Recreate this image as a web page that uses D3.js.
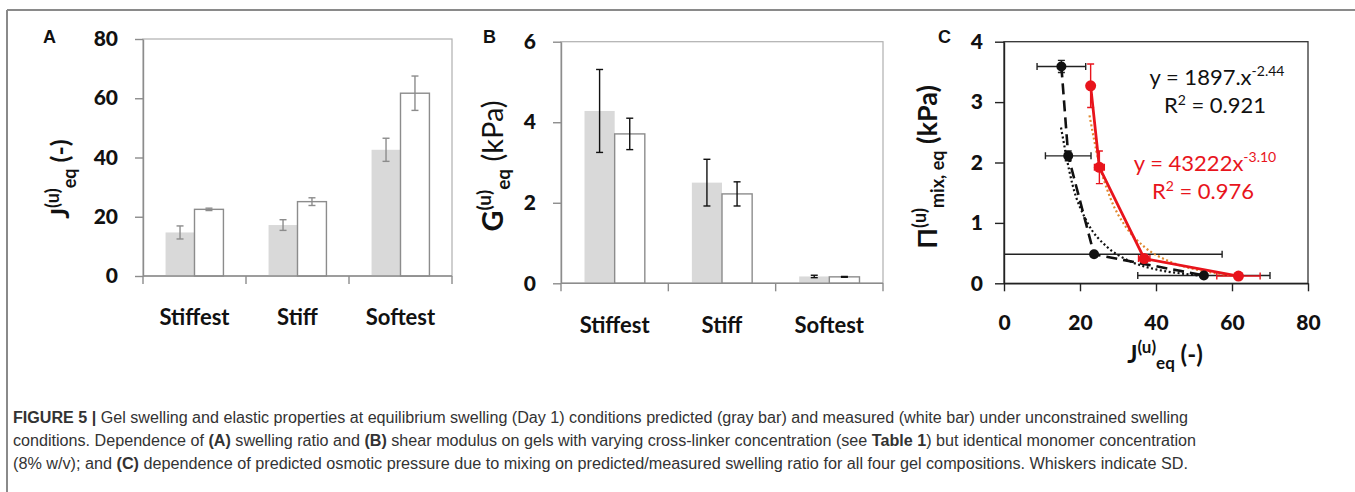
<!DOCTYPE html>
<html>
<head>
<meta charset="utf-8">
<script src="https://cdn.jsdelivr.net/npm/d3@7/dist/d3.min.js"></script>
<style>
  html, body { margin: 0; padding: 0; background: #fff; }
  svg { display: block; }
</style>
</head>
<body>
<svg id="chart" width="1355" height="492"></svg>
<script>
// ---------------- DATA ----------------
const categories = ["Stiffest", "Stiff", "Softest"];
const seriesKeys = ["predicted", "measured"];

// Panel A: swelling ratio J(u)eq
const swellPred   = [14.7, 17.2, 42.6];
const swellPredSD = [2.2, 1.8, 3.9];
const swellMeas   = [22.5, 25.1, 61.7];
const swellMeasSD = [0.4, 1.3, 5.8];
const ticksA = [0, 20, 40, 60, 80];

// Panel B: shear modulus G(u)eq (kPa)
const shearPred   = [4.28, 2.50, 0.17];
const shearPredSD = [1.03, 0.58, 0.03];
const shearMeas   = [3.71, 2.22, 0.16];
const shearMeasSD = [0.39, 0.30, 0.01];
const ticksB = [0, 2, 4, 6];

// Panel C: osmotic pressure vs swelling ratio
const predJ    = [15.1, 16.9, 23.7, 52.6];
const predJSD  = [6.4, 6.0, 33.7, 17.4];
const predPi   = [3.59, 2.11, 0.48, 0.13];
const predPiSD = [0.10, 0.08, 0.03, 0.02];
const measJ    = [22.8, 25.1, 36.9, 61.7];
const measJSD  = [0.4, 1.3, 1.5, 5.7];
const measPi   = [3.27, 1.92, 0.41, 0.12];
const measPiSD = [0.36, 0.27, 0.06, 0.03];
// trend lines
const fitPredJ  = [15, 18, 22, 27, 33, 40, 47, 53];
const fitPredPi = [2.58, 1.64, 1.00, 0.61, 0.37, 0.23, 0.16, 0.12];
const fitMeasJ  = [22.5, 25, 28, 32, 37, 44, 52, 62];
const fitMeasPi = [2.78, 2.00, 1.41, 0.94, 0.60, 0.35, 0.21, 0.12];
const ticksCx = [0, 20, 40, 60, 80];
const ticksCy = [0, 1, 2, 3, 4];
const fitPredText = ["y = 1897.x", "-2.44", "R", "2", " = 0.921"];
const fitMeasText = ["y = 43222x", "-3.10", "R", "2", " = 0.976"];

const captionLines = [
  [["FIGURE 5 | ", true], ["Gel swelling and elastic properties at equilibrium swelling (Day 1) conditions predicted (gray bar) and measured (white bar) under unconstrained swelling", false]],
  [["conditions. Dependence of ", false], ["(A)", true], [" swelling ratio and ", false], ["(B)", true], [" shear modulus on gels with varying cross-linker concentration (see ", false], ["Table 1", true], [") but identical monomer concentration", false]],
  [["(8% w/v); and ", false], ["(C)", true], [" dependence of predicted osmotic pressure due to mixing on predicted/measured swelling ratio for all four gel compositions. Whiskers indicate SD.", false]]
];

// ---------------- DRAW ----------------
const svg = d3.select("#chart");
const FONT = "Lato, 'Open Sans', sans-serif";
const GRAYFILL = "#d9d9d9", GRAYLINE = "#8c8c8c";
const fmt = d3.format("d");

// Frame
svg.append("line").attr("x1", 7).attr("x2", 1355).attr("y1", 10).attr("y2", 10)
  .attr("stroke", "#8a8a8a").attr("stroke-width", 2);
svg.append("line").attr("x1", 7).attr("x2", 7).attr("y1", 10).attr("y2", 492)
  .attr("stroke", "#8a8a8a").attr("stroke-width", 2);

function panelLetter(t, x, y) {
  svg.append("text").attr("x", x).attr("y", y).text(t)
    .attr("font-family", "'Liberation Sans', Arial, sans-serif").attr("font-weight", "bold")
    .attr("font-size", 18).attr("fill", "#111");
}

function barPanel(opt) {
  const g = svg.append("g");
  const x = d3.scaleBand().domain(categories).range([opt.x0, opt.x1]).padding(0);
  const xs = d3.scaleBand().domain(seriesKeys).range([0, x.bandwidth()]).paddingOuter(0.78).paddingInner(0);
  const y = d3.scaleLinear().domain([0, opt.ymax]).range([opt.yb, opt.yt]);

  g.append("rect").attr("x", opt.x0).attr("y", opt.yt).attr("width", opt.x1 - opt.x0).attr("height", opt.yb - opt.yt)
    .attr("fill", "none").attr("stroke", "#b0b0b0").attr("stroke-width", 1.2);

  const rows = categories.map((c, i) => ({
    c,
    vals: [
      { k: "predicted", v: opt.pred[i], sd: opt.predSD[i] },
      { k: "measured", v: opt.meas[i], sd: opt.measSD[i] }
    ]
  }));
  const grp = g.selectAll("g.cat").data(rows).join("g").attr("class", "cat")
    .attr("transform", d => `translate(${x(d.c)},0)`);
  grp.selectAll("rect").data(d => d.vals).join("rect")
    .attr("x", d => xs(d.k)).attr("width", xs.bandwidth())
    .attr("y", d => y(d.v)).attr("height", d => y(0) - y(d.v))
    .attr("fill", d => d.k === "predicted" ? GRAYFILL : "#fff")
    .attr("stroke", d => d.k === "predicted" ? "none" : GRAYLINE)
    .attr("stroke-width", 1.4);
  const eb = grp.selectAll("g.eb").data(d => d.vals).join("g").attr("class", "eb")
    .attr("stroke", opt.errColor).attr("stroke-width", 1.4);
  const cx = d => xs(d.k) + xs.bandwidth() / 2;
  eb.append("line").attr("x1", cx).attr("x2", cx).attr("y1", d => y(d.v + d.sd)).attr("y2", d => y(d.v - d.sd));
  eb.append("line").attr("x1", d => cx(d) - 3.5).attr("x2", d => cx(d) + 3.5).attr("y1", d => y(d.v + d.sd)).attr("y2", d => y(d.v + d.sd));
  eb.append("line").attr("x1", d => cx(d) - 3.5).attr("x2", d => cx(d) + 3.5).attr("y1", d => y(d.v - d.sd)).attr("y2", d => y(d.v - d.sd));

  const ya = g.append("g").attr("transform", `translate(${opt.x0},0)`)
    .call(d3.axisLeft(y).tickValues(opt.ticks).tickFormat(fmt).tickSize(8).tickSizeOuter(0).tickPadding(opt.tickPad));
  ya.selectAll("path,line").attr("stroke", GRAYLINE).attr("stroke-width", 1.4);
  ya.selectAll("text").attr("font-family", FONT).attr("font-weight", "900").attr("font-size", 21).attr("fill", "#111");

  const xa = g.append("g").attr("transform", `translate(0,${opt.yb})`);
  xa.append("line").attr("x1", opt.x0).attr("x2", opt.x1).attr("stroke", GRAYLINE).attr("stroke-width", 1.4);
  const bounds = categories.map(c => x(c)).concat([x(categories[categories.length - 1]) + x.bandwidth()]);
  xa.selectAll("line.tk").data(bounds).join("line").attr("class", "tk")
    .attr("x1", d => d).attr("x2", d => d).attr("y1", 0).attr("y2", 8)
    .attr("stroke", GRAYLINE).attr("stroke-width", 1.4);
  xa.selectAll("text").data(categories).join("text")
    .attr("x", d => x(d) + x.bandwidth() / 2).attr("y", opt.catDy)
    .attr("text-anchor", "middle").text(d => d)
    .attr("font-family", FONT).attr("font-weight", "bold").attr("font-size", 22).attr("fill", "#111");
  return g;
}

barPanel({ x0: 143, x1: 452, yt: 39, yb: 276, ymax: 80, ticks: ticksA, tickPad: 17,
  pred: swellPred, predSD: swellPredSD, meas: swellMeas, measSD: swellMeasSD,
  errColor: GRAYLINE, catDy: 49 });
barPanel({ x0: 561, x1: 883, yt: 41.7, yb: 283.3, ymax: 6, ticks: ticksB, tickPad: 17,
  pred: shearPred, predSD: shearPredSD, meas: shearMeas, measSD: shearMeasSD,
  errColor: "#111", catDy: 50 });

panelLetter("A", 43, 43);
panelLetter("B", 483, 43);
panelLetter("C", 938, 43);

function richLabel(x, y, rot, parts) {
  const t = svg.append("text").attr("font-family", FONT).attr("fill", "#111")
    .attr("text-anchor", "middle")
    .attr("transform", `translate(${x},${y}) rotate(${rot})`);
  parts.forEach(p => {
    const s = t.append("tspan").text(p.t).attr("font-size", p.fs).attr("font-weight", p.w || "bold");
    if (p.dy) s.attr("dy", p.dy);
  });
  return t;
}
richLabel(69, 179, -90, [
  { t: "J", fs: 25 }, { t: "(u)", fs: 18, dy: -10 }, { t: "eq", fs: 18, dy: 17 }, { t: " (-)", fs: 25, dy: -7 }
]);
richLabel(503, 166, -90, [
  { t: "G", fs: 29 }, { t: "(u)", fs: 19, dy: -12 }, { t: "eq", fs: 19, dy: 19 }, { t: " (kPa)", fs: 29, dy: -7, w: "normal" }
]);
richLabel(937, 167, -90, [
  { t: "Π", fs: 27 }, { t: "(u)", fs: 18, dy: -11 }, { t: "mix, eq", fs: 18, dy: 18 }, { t: " (kPa)", fs: 27, dy: -7 }
]);
richLabel(1165, 363, 0, [
  { t: "J", fs: 24 }, { t: "(u)", fs: 17, dy: -10 }, { t: "eq", fs: 17, dy: 16 }, { t: " (-)", fs: 24, dy: -6 }
]);

// ---------------- Panel C ----------------
const gC = svg.append("g");
const cx0 = 1004, cx1 = 1308, cyt = 41.7, cyb = 283.3;
const xC = d3.scaleLinear().domain([0, 80]).range([cx0, cx1]);
const yC = d3.scaleLinear().domain([0, 4]).range([cyb, cyt]);

svg.append("defs").append("clipPath").attr("id", "clipC").append("rect")
  .attr("x", cx0).attr("y", cyt).attr("width", cx1 - cx0).attr("height", cyb - cyt);

gC.append("rect").attr("x", cx0).attr("y", cyt).attr("width", cx1 - cx0).attr("height", cyb - cyt)
  .attr("fill", "none").attr("stroke", "#333").attr("stroke-width", 1.3);

const yaC = gC.append("g").attr("transform", `translate(${cx0},0)`)
  .call(d3.axisLeft(yC).tickValues(ticksCy).tickFormat(fmt).tickSize(9).tickSizeOuter(0).tickPadding(12));
const xaC = gC.append("g").attr("transform", `translate(0,${cyb})`)
  .call(d3.axisBottom(xC).tickValues(ticksCx).tickFormat(fmt).tickSize(8).tickSizeOuter(0).tickPadding(14));
[yaC, xaC].forEach(a => {
  a.selectAll("path,line").attr("stroke", "#222").attr("stroke-width", 1.4);
  a.selectAll("text").attr("font-family", FONT).attr("font-weight", "900").attr("font-size", 21).attr("fill", "#111");
});
xaC.selectAll("text").attr("dy", "1.2em");

const plotC = gC.append("g").attr("clip-path", "url(#clipC)");
const predPts = predJ.map((v, i) => ({ x: v, xs: predJSD[i], y: predPi[i], ys: predPiSD[i] }));
const measPts = measJ.map((v, i) => ({ x: v, xs: measJSD[i], y: measPi[i], ys: measPiSD[i] }));
const line = d3.line().x(d => xC(d.x)).y(d => yC(d.y));
const fitLine = d3.line().x(d => xC(d[0])).y(d => yC(d[1])).curve(d3.curveMonotoneX);

function errBars(pts, color) {
  const g = plotC.append("g").attr("stroke", color).attr("stroke-width", 1.4);
  pts.forEach(d => {
    g.append("line").attr("x1", xC(d.x - d.xs)).attr("x2", xC(d.x + d.xs)).attr("y1", yC(d.y)).attr("y2", yC(d.y));
    [d.x - d.xs, d.x + d.xs].forEach(v => g.append("line").attr("x1", xC(v)).attr("x2", xC(v)).attr("y1", yC(d.y) - 3.5).attr("y2", yC(d.y) + 3.5));
    g.append("line").attr("x1", xC(d.x)).attr("x2", xC(d.x)).attr("y1", yC(d.y + d.ys)).attr("y2", yC(d.y - d.ys));
    [d.y - d.ys, d.y + d.ys].forEach(v => g.append("line").attr("x1", xC(d.x) - 3.5).attr("x2", xC(d.x) + 3.5).attr("y1", yC(v)).attr("y2", yC(v)));
  });
}
errBars(predPts, "#222");
errBars(measPts, "#e8141c");

plotC.append("path").datum(fitPredJ.map((v, i) => [v, fitPredPi[i]])).attr("d", fitLine)
  .attr("fill", "none").attr("stroke", "#111").attr("stroke-width", 2.2).attr("stroke-dasharray", "2,2.5");
plotC.append("path").datum(fitMeasJ.map((v, i) => [v, fitMeasPi[i]])).attr("d", fitLine)
  .attr("fill", "none").attr("stroke", "#e0892e").attr("stroke-width", 2.2).attr("stroke-dasharray", "2,2.5");

plotC.append("path").datum(predPts).attr("d", line).attr("fill", "none")
  .attr("stroke", "#111").attr("stroke-width", 2.6).attr("stroke-dasharray", "11,6");
plotC.append("path").datum(measPts).attr("d", line).attr("fill", "none")
  .attr("stroke", "#e8141c").attr("stroke-width", 2.8);

plotC.selectAll("circle.p").data(predPts).join("circle").attr("class", "p")
  .attr("cx", d => xC(d.x)).attr("cy", d => yC(d.y)).attr("r", 5).attr("fill", "#111");
plotC.selectAll("circle.m").data(measPts).join("circle").attr("class", "m")
  .attr("cx", d => xC(d.x)).attr("cy", d => yC(d.y)).attr("r", 5.5).attr("fill", "#e8141c");

function eqText(x, y, parts, color) {
  const t1 = svg.append("text").attr("x", x).attr("y", y).attr("text-anchor", "middle")
    .attr("font-family", FONT).attr("font-size", 22).attr("fill", color);
  t1.append("tspan").text(parts[0]);
  t1.append("tspan").text(parts[1]).attr("font-size", 14).attr("dy", -9);
  const t2 = svg.append("text").attr("x", x - 2).attr("y", y + 28).attr("text-anchor", "middle")
    .attr("font-family", FONT).attr("font-size", 22).attr("fill", color);
  t2.append("tspan").text(parts[2]);
  t2.append("tspan").text(parts[3]).attr("font-size", 14).attr("dy", -8);
  t2.append("tspan").text(parts[4]).attr("dy", 8);
}
eqText(1217, 85, fitPredText, "#111");
eqText(1205, 171, fitMeasText, "#e8141c");

// ---------------- Caption ----------------
const capBase = [423, 446, 469];
const capEnd = [1188, 1196, 1188];
captionLines.forEach((ln, i) => {
  const t = svg.append("text").attr("x", 13).attr("y", capBase[i])
    .attr("font-family", "'Liberation Sans Narrow', 'Liberation Sans', Arial, sans-serif")
    .attr("font-size", 16).attr("fill", "#333")
    .attr("textLength", capEnd[i] - 13).attr("lengthAdjust", "spacingAndGlyphs");
  ln.forEach(([s, b]) => t.append("tspan").text(s).attr("font-weight", b ? "bold" : "normal"));
});
</script>
</body>
</html>
